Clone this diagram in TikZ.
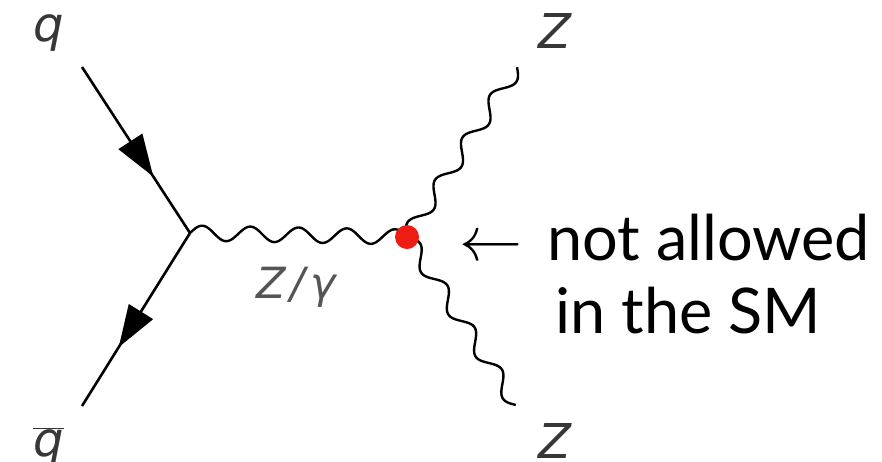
\documentclass[tikz,border=0pt]{standalone}
\usepackage{fontspec}
\setmainfont{Lato}
\newfontfamily\lblfont{DejaVu Sans}
\usetikzlibrary{calc,decorations.markings,arrows.meta}
\definecolor{dotred}{RGB}{238,28,18}
\definecolor{lblgray}{RGB}{55,55,55}
\definecolor{lblgray2}{RGB}{85,85,85}
\tikzset{
  fermion/.style={line width=2.6pt, postaction={decorate},
    decoration={markings, mark=at position 0.66 with {\arrow{Triangle[length=42pt,width=28pt]}}}},
  bosonline/.style={line width=2.4pt, line join=round},
  lbl/.style={font=\lblfont\itshape\fontsize{48}{48}\selectfont, text=lblgray, inner sep=0pt, anchor=base west},
  bigtext/.style={font=\fontsize{63}{63}\selectfont, inner sep=0pt, anchor=base west},
  arrtext/.style={font=\fontsize{10}{12}\selectfont, inner sep=0pt, anchor=base west},
  vdot/.style={circle, fill=dotred, minimum size=24pt, inner sep=0pt},
}
% #1 start, #2 end, #3 number of half periods, #4 amplitude
\newcommand\zwave[4]{%
  \draw[bosonline] let \p1=(#1), \p2=(#2), \n1={veclen(\x2-\x1,\y2-\y1)} in
    plot[domain=0:1, samples=300, variable=\t]
    ({\x1+\t*(\x2-\x1)-#4*(\y2-\y1)/\n1*sin(\t*#3*180)},
     {\y1+\t*(\y2-\y1)+#4*(\x2-\x1)/\n1*sin(\t*#3*180)});}
\begin{document}
\begin{tikzpicture}[x=1pt,y=-1pt]
\useasboundingbox (0,0) rectangle (882,461);
\coordinate (qin) at (82,67);
\coordinate (v1) at (190,233);
\coordinate (qbout) at (82,406);
\coordinate (v2) at (407,237);
\coordinate (z1) at (517,67);
\coordinate (z2) at (516,405);
\draw[fermion] (qin) -- (v1);
\draw[fermion] (v1) -- (qbout);
\zwave{v1}{v2}{9}{7.5}
\zwave{v2}{z1}{8}{7.5}
\zwave{v2}{z2}{8}{7.5}
\node[vdot] (vtx) at (v2) {};
\node[lbl] (q) at (33,41) {q};
\node[lbl] (qb) at (33,456) {$\overline{\mbox{q}}$};
\node[lbl] (za) at (538,48) {Z};
\node[lbl] (zb) at (538,458) {Z};
\node[lbl, font=\lblfont\itshape\fontsize{43}{43}\selectfont, text=lblgray2] (zg) at (256,298) {Z\kern5pt/\kern5ptγ};
\node[arrtext] (arr) at (459,260) {\scalebox{6.3}{$\leftarrow$}};
\node[bigtext] (t1) at (547,260) {not allowed};
\node[bigtext] (t2) at (555,333) {in the SM};
\end{tikzpicture}
\end{document}
